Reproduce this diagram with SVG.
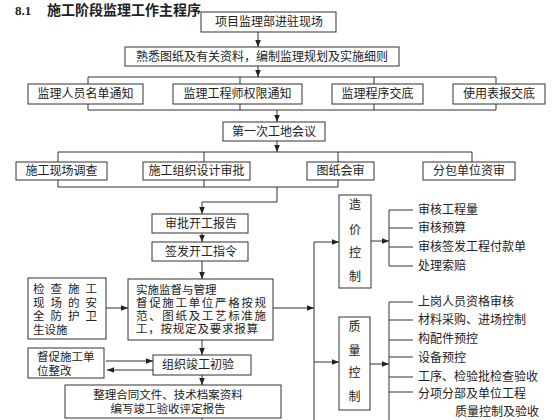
<svg xmlns="http://www.w3.org/2000/svg" width="560" height="420" viewBox="0 0 560 420">
<style>
.b{fill:#fff;stroke:#333;stroke-width:1}
.t{font-family:"Liberation Sans","Noto Sans CJK SC",sans-serif;font-size:12px;fill:#222;dominant-baseline:central}
.s{font-size:11.5px}
.c{text-anchor:middle}
.l{fill:none;stroke:#333;stroke-width:1}
.a{fill:none;stroke:#333;stroke-width:1;marker-end:url(#ah)}
</style>
<defs>
<marker id="ah" viewBox="0 0 10 10" refX="10" refY="5" markerWidth="7" markerHeight="7" markerUnits="userSpaceOnUse" orient="auto"><path d="M0,1 L10,5 L0,9z" fill="#222"/></marker>
</defs>
<rect width="560" height="420" fill="#fff"/>
<g id="title">
<text x="15" y="15" style="font-family:'Liberation Serif',serif;font-size:13px;font-weight:bold;fill:#222">8.1</text>
<text x="47" y="15" style="font-family:'Liberation Serif','Noto Sans CJK SC',sans-serif;font-size:14px;font-weight:bold;fill:#222">施工阶段监理工作主程序</text>
</g>
<g id="connectors">
<path class="a" d="M258,32 V47"/>
<path class="a" d="M258,66 V77"/>
<path class="l" d="M88,84 V77 H496 V84 M240,77 V84 M374,77 V84"/>
<path class="l" d="M88,104 V110 H496 V104 M240,104 V110 M374,104 V110"/>
<path class="a" d="M277,110 V122"/>
<path class="a" d="M277,141 V152"/>
<path class="l" d="M58,162 V152 H472 V162 M204,152 V162 M338,152 V162"/>
<path class="l" d="M58,180 V187 H338 V180 M204,180 V187"/>
<path class="l" d="M277,187 V202 H202"/>
<path class="a" d="M202,202 V214"/>
<path class="a" d="M202,233 V242"/>
<path class="a" d="M202,261 V279"/>
<path class="a" d="M106,308 H128"/>
<path class="a" d="M202,340 V355"/>
<path class="a" d="M106,361 H153"/>
<path class="a" d="M153,370 H107"/>
<path class="a" d="M202,375 V385"/>
<path class="l" d="M202,418 V420"/>
<path class="a" d="M273,308 H314"/>
<path class="l" d="M314,242 V420"/>
<path class="a" d="M314,242 H339"/>
<path class="a" d="M314,362 H339"/>
<path class="a" d="M371,241 H389"/>
<path class="l" d="M413,210 H389 V266 H413 M389,228 H413 M389,247 H413"/>
<path class="a" d="M370,364 H389"/>
<path class="l" d="M413,302 H389 V420 M389,320 H413 M389,340 H413 M389,357 H413 M389,377 H413 M389,392 H413"/>
</g>
<g id="n1"><rect class="b" x="201" y="12" width="135" height="20"/><text class="t c" x="269" y="22">项目监理部进驻现场</text></g>
<g id="n2"><rect class="b" x="125" y="47" width="274" height="19"/><text class="t c" x="262" y="56.5">熟悉图纸及有关资料，编制监理规划及实施细则</text></g>
<g id="n3"><rect class="b" x="28" y="84" width="115" height="20"/><text class="t c" x="85.5" y="94">监理人员名单通知</text></g>
<g id="n4"><rect class="b" x="173" y="84" width="129" height="20"/><text class="t c" x="237.5" y="94">监理工程师权限通知</text></g>
<g id="n5"><rect class="b" x="332" y="84" width="91" height="20"/><text class="t c" x="377.5" y="94">监理程序交底</text></g>
<g id="n6"><rect class="b" x="453" y="84" width="92" height="20"/><text class="t c" x="499" y="94">使用表报交底</text></g>
<g id="n7"><rect class="b" x="223" y="122" width="102" height="19"/><text class="t c" x="274" y="131.5">第一次工地会议</text></g>
<g id="n8"><rect class="b" x="16" y="162" width="91" height="18"/><text class="t c" x="61.5" y="171">施工现场调查</text></g>
<g id="n9"><rect class="b" x="143" y="162" width="107" height="18"/><text class="t c" x="196.5" y="171">施工组织设计审批</text></g>
<g id="n10"><rect class="b" x="307" y="162" width="67" height="18"/><text class="t c" x="340.5" y="171">图纸会审</text></g>
<g id="n11"><rect class="b" x="423" y="162" width="92" height="18"/><text class="t c" x="469" y="171">分包单位资审</text></g>
<g id="n12"><rect class="b" x="152" y="214" width="96" height="19"/><text class="t c" x="201" y="223.5">审批开工报告</text></g>
<g id="n13"><rect class="b" x="152" y="242" width="96" height="19"/><text class="t c" x="201" y="251.5">签发开工指令</text></g>
<g id="n14"><rect class="b" x="128" y="279" width="145" height="61"/>
<text class="t s" x="136" y="290">实施监督与管理</text>
<text class="t s" x="136" y="303" textLength="130" lengthAdjust="spacing">督促施工单位严格按规</text>
<text class="t s" x="136" y="316" textLength="130" lengthAdjust="spacing">范、图纸及工艺标准施</text>
<text class="t s" x="136" y="329" textLength="122" lengthAdjust="spacing">工，按规定及要求报算</text></g>
<g id="n15"><rect class="b" x="28" y="278" width="78" height="61"/>
<text class="t s" x="33" y="289" textLength="64" lengthAdjust="spacing">检查施工</text>
<text class="t s" x="33" y="302.5" textLength="64" lengthAdjust="spacing">现场的安</text>
<text class="t s" x="33" y="316" textLength="64" lengthAdjust="spacing">全防护卫</text>
<text class="t s" x="33" y="329.5">生设施</text></g>
<g id="n16"><rect class="b" x="153" y="355" width="98" height="20"/><text class="t c" x="198" y="365">组织竣工初验</text></g>
<g id="n17"><rect class="b" x="28" y="348" width="76" height="30"/>
<text class="t s" x="37" y="357">督促施工单</text>
<text class="t s" x="37" y="370.5">位整改</text></g>
<g id="n18"><rect class="b" x="65" y="385" width="216" height="33"/>
<text class="t s c" x="168" y="395">整理合同文件、技术档案资料</text>
<text class="t s c" x="168" y="409">编写竣工验收评定报告</text></g>
<g id="n19"><rect class="b" x="339" y="195" width="32" height="93"/>
<text class="t c" x="355" y="205">造</text><text class="t c" x="355" y="230">价</text><text class="t c" x="355" y="253">控</text><text class="t c" x="355" y="277">制</text></g>
<g id="n20"><rect class="b" x="339" y="317" width="31" height="93"/>
<text class="t c" x="354.5" y="327">质</text><text class="t c" x="354.5" y="351">量</text><text class="t c" x="354.5" y="373">控</text><text class="t c" x="354.5" y="397">制</text></g>
<g id="cost-items">
<text class="t" x="418" y="210">审核工程量</text>
<text class="t" x="418" y="228">审核预算</text>
<text class="t" x="418" y="247">审核签发工程付款单</text>
<text class="t" x="418" y="266">处理索赔</text>
</g>
<g id="quality-items">
<text class="t" x="418" y="302">上岗人员资格审核</text>
<text class="t" x="418" y="320">材料采购、进场控制</text>
<text class="t" x="418" y="339">构配件预控</text>
<text class="t" x="418" y="358">设备预控</text>
<text class="t" x="418" y="377">工序、检验批检查验收</text>
<text class="t" x="418" y="394">分项分部及单位工程</text>
<text class="t" x="455" y="412">质量控制及验收</text>
</g>
</svg>
